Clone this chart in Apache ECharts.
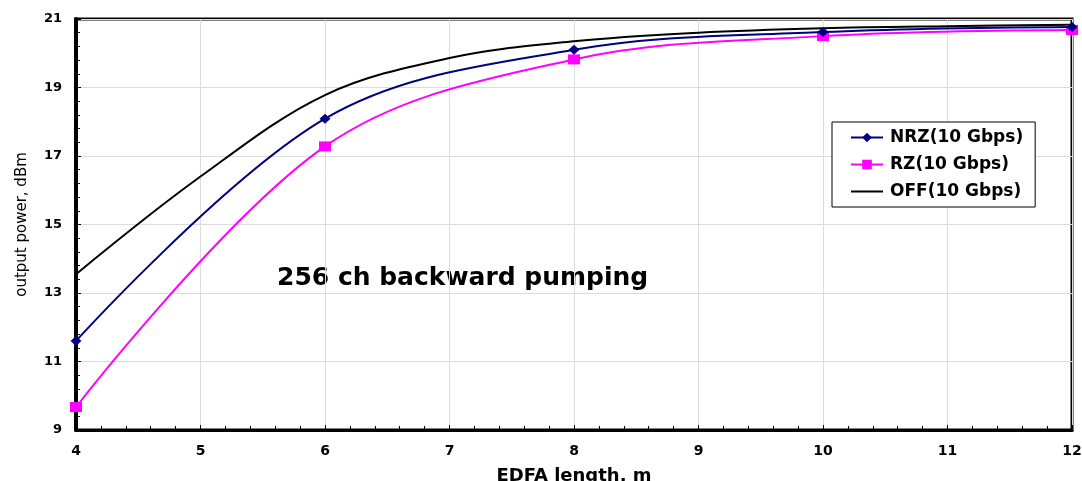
<!DOCTYPE html>
<html><head><meta charset="utf-8">
<script src="https://cdn.jsdelivr.net/npm/echarts@6/dist/echarts.min.js"></script>
<style>html,body{margin:0;padding:0;background:#fff}#c{width:1082px;height:481px}</style>
</head><body><div id="c"></div>
<script>
const xNRZ = [4, 6, 8, 10, 12];
const yNRZ = [11.6, 18.09, 20.1, 20.62, 20.77];
const xRZ = [4, 6, 8, 10, 12];
const yRZ = [9.67, 17.28, 19.82, 20.5, 20.68];
const xOFF = [4, 5, 6, 7, 8, 9, 10, 11, 12];
const yOFF = [13.55, 16.4, 18.78, 19.86, 20.35, 20.6, 20.73, 20.79, 20.83];
const seriesNames = ['NRZ(10 Gbps)', 'RZ(10 Gbps)', 'OFF(10 Gbps)'];
const annotation = '256 ch backward pumping';
const xName = 'EDFA length, m';
const yName = 'output power, dBm';

const pairs = (xs, ys) => xs.map((x, i) => [x, ys[i]]);
const FONT = 'DejaVu Sans, sans-serif';
const LINE_ICON = 'path://M0,0 M0,5 L32,5 L32,7 L0,7 Z M32,12';
const chart = echarts.init(document.getElementById('c'), null, {renderer: 'canvas'});
chart.setOption({
  animation: false,
  backgroundColor: '#fff',
  grid: {left: 76, right: 10, top: 19, bottom: 51, show: true, borderColor: '#000', borderWidth: 3,
         backgroundColor: '#fff', containLabel: false, outerBoundsMode: 'none'},
  xAxis: {
    type: 'value', min: 4, max: 12, interval: 1,
    name: xName, nameLocation: 'middle', nameGap: 37,
    nameTextStyle: {fontFamily: FONT, fontWeight: 'bold', fontSize: 18, color: '#000'},
    axisLine: {show: true, lineStyle: {color: '#000', width: 3}},
    axisTick: {show: true, inside: true, length: 5, lineStyle: {color: '#000', width: 1}},
    minorTick: {show: true, splitNumber: 5, length: 4, lineStyle: {color: '#000', width: 1}},
    axisLabel: {fontFamily: FONT, fontWeight: 'bold', fontSize: 14, color: '#000', margin: 14},
    splitLine: {show: true, lineStyle: {color: '#dcdcdc', width: 1}}
  },
  yAxis: {
    type: 'value', min: 9, max: 21, interval: 2,
    name: yName, nameLocation: 'middle', nameGap: 46,
    nameTextStyle: {fontFamily: FONT, fontSize: 15, color: '#000'},
    axisLine: {show: true, lineStyle: {color: '#000', width: 4}},
    axisTick: {show: true, inside: true, length: 5, lineStyle: {color: '#000', width: 1}},
    minorTick: {show: true, splitNumber: 5, length: 4, lineStyle: {color: '#000', width: 1}},
    axisLabel: {fontFamily: FONT, fontWeight: 'bold', fontSize: 13, color: '#000', margin: 14},
    splitLine: {show: true, lineStyle: {color: '#dcdcdc', width: 1}}
  },
  legend: {
    orient: 'vertical', left: 832, top: 122,
    backgroundColor: '#fff', borderColor: '#000', borderWidth: 1,
    padding: [7, 12, 7, 18], itemGap: 10, itemWidth: 32, itemHeight: 12,
    textStyle: {fontFamily: FONT, fontWeight: 'bold', fontSize: 17, color: '#000', padding: [0, 0, 0, 2]},
    data: [seriesNames[0], seriesNames[1], {name: seriesNames[2], icon: LINE_ICON}]
  },
  graphic: [{
    type: 'text', left: 277, top: 266,
    style: {text: annotation, fontFamily: FONT, fontWeight: 'bold', fontSize: 25, fill: '#000'}
  }],
  series: [
    {name: seriesNames[0], type: 'line', data: pairs(xNRZ, yNRZ), smooth: 0.35,
     symbol: 'diamond', symbolSize: [11, 10],
     lineStyle: {color: '#000080', width: 2}, itemStyle: {color: '#000080'}, z: 3},
    {name: seriesNames[1], type: 'line', data: pairs(xRZ, yRZ), smooth: 0.35,
     symbol: 'rect', symbolSize: [12, 10],
     lineStyle: {color: '#ff00ff', width: 2}, itemStyle: {color: '#ff00ff'}, z: 2},
    {name: seriesNames[2], type: 'line', data: pairs(xOFF, yOFF), smooth: 0.35,
     symbol: 'none', showSymbol: false,
     lineStyle: {color: '#000', width: 2}, itemStyle: {color: '#000'}, z: 1}
  ]
});
</script></body></html>
